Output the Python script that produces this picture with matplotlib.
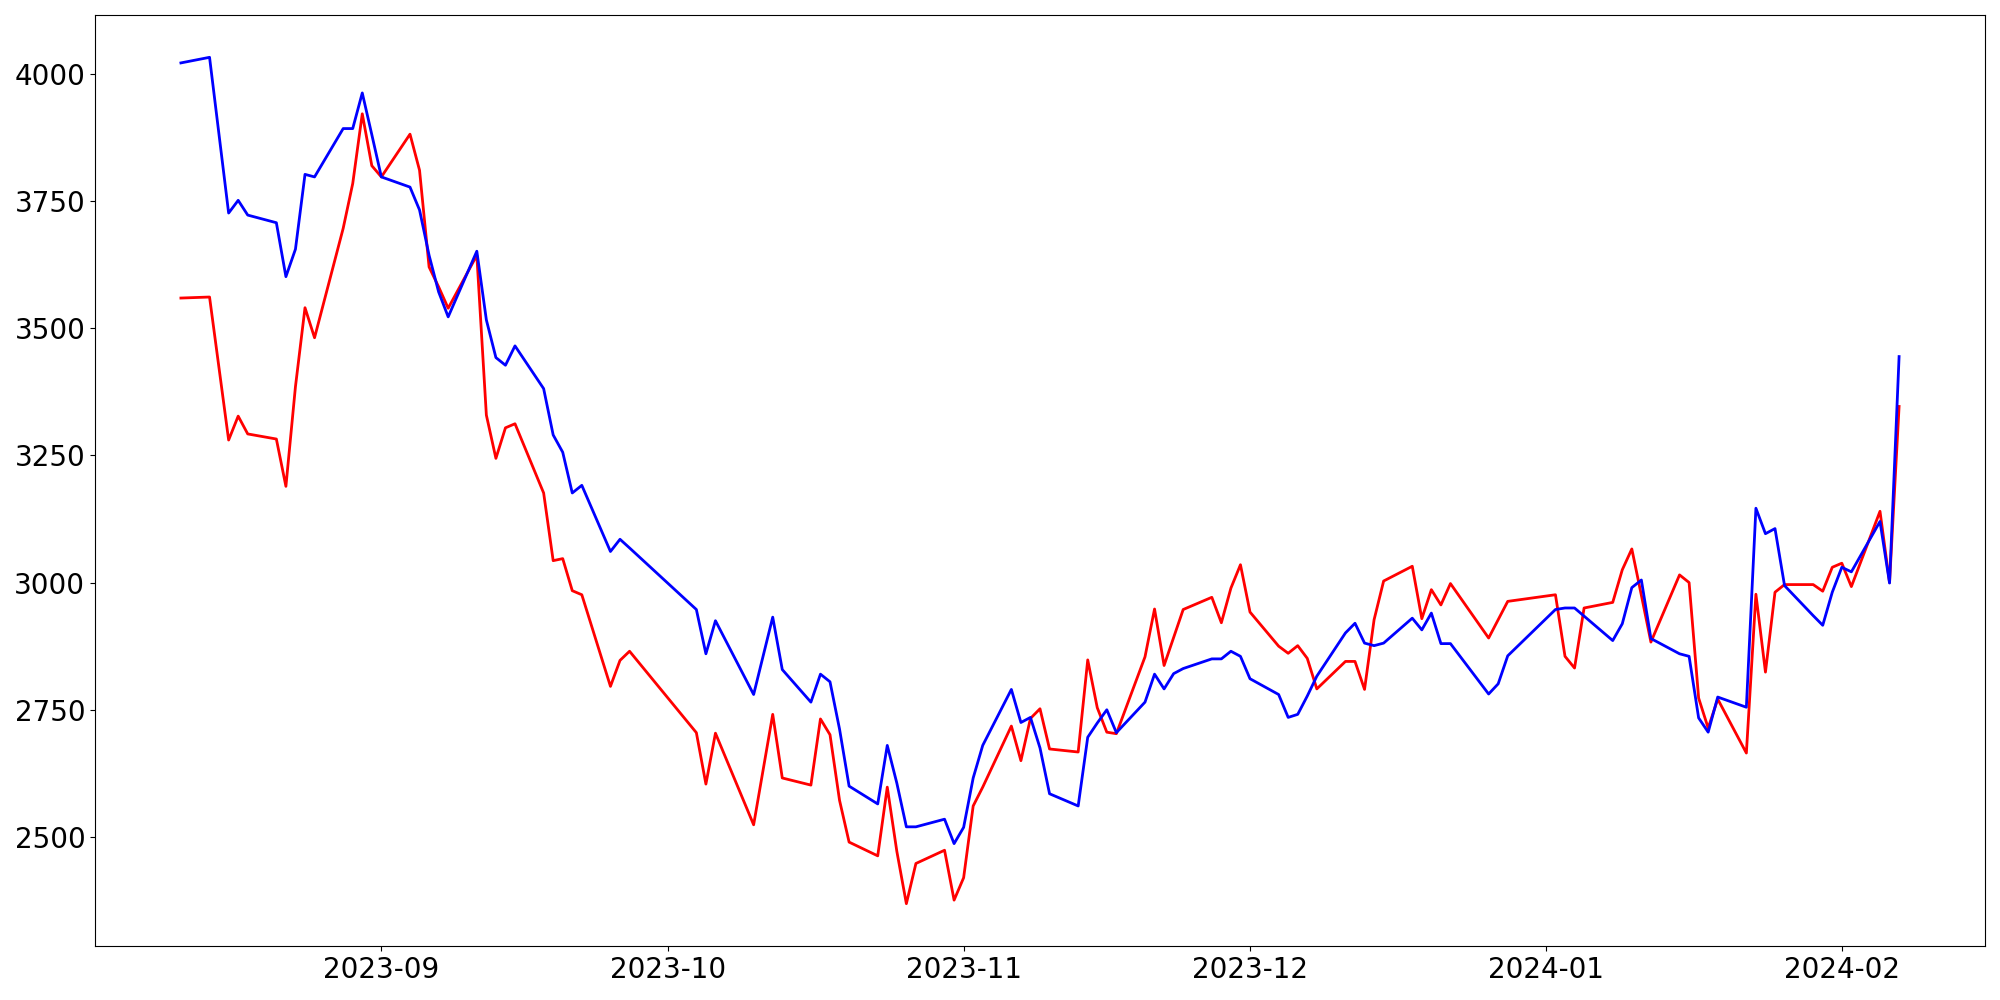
import matplotlib
matplotlib.use("Agg")
import matplotlib.pyplot as plt
import pandas as pd

dates = [
    "2023-08-11", "2023-08-14", "2023-08-16", "2023-08-17", "2023-08-18",
    "2023-08-21", "2023-08-22", "2023-08-23", "2023-08-24", "2023-08-25",
    "2023-08-28", "2023-08-29", "2023-08-30", "2023-08-31", "2023-09-01",
    "2023-09-04", "2023-09-05", "2023-09-06", "2023-09-07", "2023-09-08",
    "2023-09-11", "2023-09-12", "2023-09-13", "2023-09-14", "2023-09-15",
    "2023-09-18", "2023-09-19", "2023-09-20", "2023-09-21", "2023-09-22",
    "2023-09-25", "2023-09-26", "2023-09-27", "2023-10-04", "2023-10-05",
    "2023-10-06", "2023-10-10", "2023-10-12", "2023-10-13", "2023-10-16",
    "2023-10-17", "2023-10-18", "2023-10-19", "2023-10-20", "2023-10-23",
    "2023-10-24", "2023-10-25", "2023-10-26", "2023-10-27", "2023-10-30",
    "2023-10-31", "2023-11-01", "2023-11-02", "2023-11-03", "2023-11-06",
    "2023-11-07", "2023-11-08", "2023-11-09", "2023-11-10", "2023-11-13",
    "2023-11-14", "2023-11-15", "2023-11-16", "2023-11-17", "2023-11-20",
    "2023-11-21", "2023-11-22", "2023-11-23", "2023-11-24", "2023-11-27",
    "2023-11-28", "2023-11-29", "2023-11-30", "2023-12-01", "2023-12-04",
    "2023-12-05", "2023-12-06", "2023-12-07", "2023-12-08", "2023-12-11",
    "2023-12-12", "2023-12-13", "2023-12-14", "2023-12-15", "2023-12-18",
    "2023-12-19", "2023-12-20", "2023-12-21", "2023-12-22", "2023-12-26",
    "2023-12-27", "2023-12-28", "2024-01-02", "2024-01-03", "2024-01-04",
    "2024-01-05", "2024-01-08", "2024-01-09", "2024-01-10", "2024-01-11",
    "2024-01-12", "2024-01-15", "2024-01-16", "2024-01-17", "2024-01-18",
    "2024-01-19", "2024-01-22", "2024-01-23", "2024-01-24", "2024-01-25",
    "2024-01-26", "2024-01-29", "2024-01-30", "2024-01-31", "2024-02-01",
    "2024-02-02", "2024-02-05", "2024-02-06", "2024-02-07",
]

blue_values = [
    4021, 4032, 3726, 3751, 3722,
    3707, 3601, 3655, 3802, 3797,
    3892, 3892, 3962, 3880, 3797,
    3777, 3732, 3643, 3571, 3522,
    3651, 3516, 3442, 3427, 3465,
    3381, 3290, 3256, 3176, 3191,
    3061, 3085, 3068, 2947, 2860,
    2925, 2780, 2932, 2829, 2765,
    2820, 2805, 2712, 2600, 2565,
    2680, 2606, 2520, 2520, 2535,
    2487, 2519, 2616, 2680, 2790,
    2725, 2735, 2675, 2585, 2561,
    2696, 2724, 2750, 2705, 2765,
    2820, 2791, 2821, 2831, 2850,
    2850, 2865, 2855, 2811, 2780,
    2735, 2741, 2777, 2816, 2901,
    2920, 2881, 2876, 2881, 2930,
    2907, 2940, 2880, 2880, 2781,
    2801, 2856, 2947, 2950, 2950,
    2934, 2886, 2919, 2990, 3005,
    2890, 2860, 2855, 2734, 2706,
    2775, 2755, 3146, 3096, 3106,
    2994, 2935, 2916, 2981, 3030,
    3021, 3120, 2999, 3444,
]

red_values = [
    3559, 3561, 3280, 3327, 3292,
    3282, 3189, 3385, 3540, 3481,
    3696, 3784, 3921, 3819, 3797,
    3881, 3810, 3620, 3581, 3539,
    3643, 3329, 3244, 3304, 3312,
    3176, 3043, 3047, 2984, 2976,
    2796, 2847, 2865, 2705, 2604,
    2704, 2524, 2741, 2616, 2602,
    2732, 2701, 2572, 2490, 2463,
    2598, 2472, 2369, 2448, 2474,
    2376, 2420, 2561, 2598, 2718,
    2650, 2733, 2752, 2673, 2667,
    2848, 2754, 2706, 2703, 2854,
    2948, 2837, 2892, 2947, 2971,
    2921, 2989, 3035, 2942, 2875,
    2861, 2876, 2851, 2791, 2845,
    2845, 2790, 2927, 3003, 3032,
    2929, 2986, 2956, 2998, 2891,
    2927, 2963, 2976, 2855, 2832,
    2950, 2961, 3025, 3066, 2975,
    2883, 3015, 3000, 2773, 2714,
    2771, 2665, 2977, 2824, 2981,
    2996, 2996, 2983, 3030, 3038,
    2992, 3140, 3000, 3346,
]

x = pd.to_datetime(dates)

fig = plt.figure(figsize=(20, 10), dpi=100)
ax = fig.add_axes([0.0475, 0.054, 0.945, 0.931])
ax.plot(x, red_values, color="red", linewidth=2)
ax.plot(x, blue_values, color="blue", linewidth=2)
ax.set_yticks([2500, 2750, 3000, 3250, 3500, 3750, 4000])
ax.tick_params(axis="both", labelsize=20)
fig.savefig("out.png", dpi=100)
